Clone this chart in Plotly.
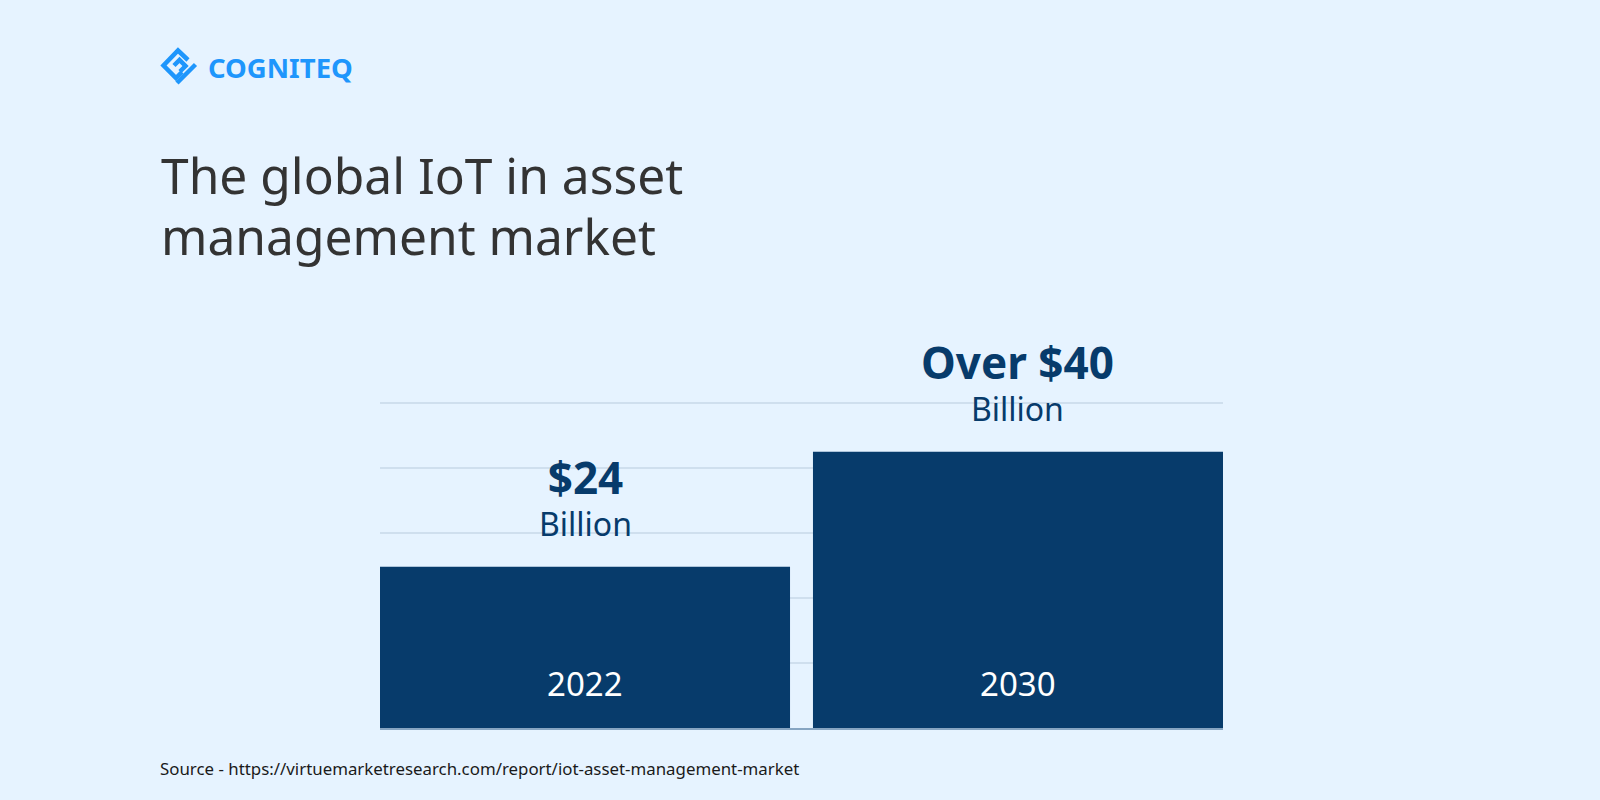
import plotly.graph_objects as go

categories = ["2022", "2030"]
values = [24.8, 42.5]
labels = ["$24", "Over $40"]
unit = "Billion"
title_lines = ["The global IoT in asset", "management market"]
source = "Source - https://virtuemarketresearch.com/report/iot-asset-management-market"
brand = "COGNITEQ"

W, H = 1600, 800
L, R, T, B = 380, 1223, 393, 728
NAVY = "#073b6b"
BG = "#e6f3ff"
BLUE = "#1e96fc"
FONT = "Noto Sans"


def px(x):
    return (x - L) / (R - L)


def py(y):
    return (B - y) / (B - T)


fig = go.Figure(go.Bar(x=[0, 1], y=values, width=0.947, marker=dict(color=NAVY, line_width=0), hoverinfo="skip"))

anns = []
for i, (cat, val, lab) in enumerate(zip(categories, values, labels)):
    anns.append(dict(x=i, y=val, yref="y", xref="x",
                     text=f"<span style='font-size:44px'><b>{lab}</b></span><br>"
                          f"<span style='font-size:32px'>{unit}</span>",
                     yshift=71, showarrow=False,
                     font=dict(size=32.5, color=NAVY, family=FONT), yanchor="middle"))
    anns.append(dict(x=i, y=0, yref="y", xref="x", text=cat, yshift=45, showarrow=False,
                     font=dict(size=33, color="#ffffff", family=FONT), yanchor="middle"))


def text_at(x, y, text, size, color, bold=False):
    anns.append(dict(x=px(x), y=py(y), xref="paper", yref="paper", xanchor="left", yanchor="middle",
                     text=f"<b>{text}</b>" if bold else text, showarrow=False,
                     font=dict(size=size, color=color, family=FONT)))


text_at(206, 67, brand, 27.5, BLUE, True)
text_at(159, 174.5, title_lines[0], 49.7, "#333333")
text_at(159, 236, title_lines[1], 49.7, "#333333")
text_at(158, 768, source, 16.85, "#1a1a1a")

logo_strokes = [
    [(188, 60), (178, 50.5), (163.5, 65.5), (176, 78), (182, 72)],
    [(174, 65.5), (179.5, 60), (185.5, 66), (180, 71.5)],
    [(195.5, 64.5), (177, 83)],
]
shapes = []
for stroke in logo_strokes:
    d = "M " + " L ".join(f"{px(x):.5f},{py(y):.5f}" for x, y in stroke)
    shapes.append(dict(type="path", path=d, xref="paper", yref="paper", line=dict(color=BLUE, width=4.5), layer="above"))

fig.update_layout(
    width=W, height=H, autosize=False,
    paper_bgcolor=BG, plot_bgcolor=BG,
    margin=dict(l=L, r=W - R, t=T, b=H - B, pad=0),
    showlegend=False,
    annotations=anns, shapes=shapes,
    xaxis=dict(range=[-0.4735, 1.4735], showgrid=False, showticklabels=False, ticks="", zeroline=False,
               showline=True, linecolor="#86a5c2", linewidth=1.5, fixedrange=True),
    yaxis=dict(range=[0, 51.54], dtick=10, showgrid=True, gridcolor="#cfdfee", gridwidth=2, showticklabels=False,
               ticks="", zeroline=False, fixedrange=True),
)
fig.write_html("out.html", config=dict(displayModeBar=False),
               post_script="document.body.style.margin='0';document.body.style.background='#e6f3ff';")
